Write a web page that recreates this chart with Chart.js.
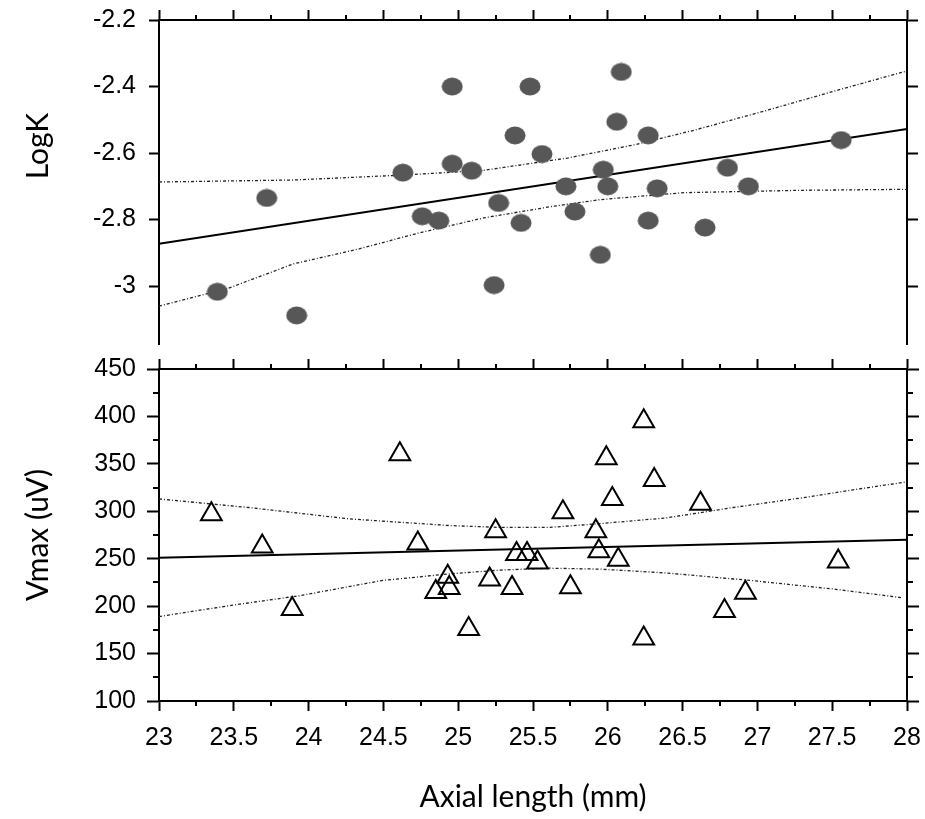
<!DOCTYPE html>
<html>
<head>
<meta charset="utf-8">
<script src="https://cdn.jsdelivr.net/npm/chart.js@4.4.1/dist/chart.umd.min.js"></script>
<style>
  html, body { margin: 0; padding: 0; background: #fff; }
  #wrap { position: relative; width: 925px; height: 819px; }
  canvas { position: absolute; left: 0; }
  #logkChart { top: 0; }
  #vmaxChart { top: 355px; }
</style>
</head>
<body>
<div id="wrap">
  <canvas id="logkChart" width="925" height="355"></canvas>
  <canvas id="vmaxChart" width="925" height="464"></canvas>
</div>
<script>
// axis ticks
const axialTicks = [23, 23.5, 24, 24.5, 25, 25.5, 26, 26.5, 27, 27.5, 28];
const axialMinor = [23.25, 23.75, 24.25, 24.75, 25.25, 25.75, 26.25, 26.75, 27.25, 27.75];
const logkTicks = [-3, -2.8, -2.6, -2.4, -2.2];
const vmaxTicks = [100, 150, 200, 250, 300, 350, 400, 450];
const vmaxMinor = [125, 175, 225, 275, 325, 375, 425];

// upper panel : LogK
const logkAxial = [23.39, 23.72, 23.92, 24.63, 24.76, 24.87, 24.96, 24.96, 25.09, 25.24,
                   25.27, 25.38, 25.42, 25.48, 25.56, 25.72, 25.78, 25.95, 25.97, 26.00,
                   26.06, 26.09, 26.27, 26.27, 26.33, 26.65, 26.80, 26.94, 27.56];
const logkValues = [-3.017, -2.735, -3.088, -2.659, -2.79, -2.803, -2.40, -2.632, -2.653, -2.997,
                    -2.75, -2.547, -2.81, -2.40, -2.603, -2.70, -2.776, -2.906, -2.65, -2.70,
                    -2.506, -2.356, -2.547, -2.803, -2.706, -2.824, -2.644, -2.70, -2.561];
const logkFitX = [23, 28];
const logkFitY = [-2.873, -2.528];
const logkUpperX = [23.0, 23.9, 24.64, 25.17, 25.73, 26.18, 26.58, 27.02, 27.52, 28.0];
const logkUpperY = [-2.687, -2.681, -2.666, -2.652, -2.615, -2.575, -2.531, -2.477, -2.413, -2.353];
const logkLowerX = [23.0, 23.46, 23.9, 24.33, 24.73, 25.17, 25.62, 25.95, 26.51, 27.29, 28.0];
const logkLowerY = [-3.06, -3.007, -2.933, -2.889, -2.841, -2.795, -2.761, -2.74, -2.719, -2.712, -2.709];

// lower panel : Vmax
const vmaxAxial = [23.35, 23.69, 23.89, 24.61, 24.73, 24.85, 24.93, 24.94, 25.07, 25.21,
                   25.25, 25.36, 25.39, 25.46, 25.53, 25.70, 25.75, 25.92, 25.94, 25.99,
                   26.03, 26.07, 26.24, 26.24, 26.31, 26.62, 26.78, 26.92, 27.54];
const vmaxValues = [297, 263, 197, 360, 266, 215, 231, 219, 176, 228,
                    279, 219, 255, 255, 246, 299, 220, 279, 258, 356,
                    313, 249, 395, 166, 333, 308, 195, 214, 247];
const vmaxFitX = [23, 28];
const vmaxFitY = [251, 270];
const vmaxUpperX = [23.0, 23.6, 24.27, 24.94, 25.28, 25.61, 25.95, 26.39, 26.84, 27.29, 27.74, 28.0];
const vmaxUpperY = [313, 304, 292, 285, 283, 283, 287, 293, 304, 314, 325, 331];
const vmaxLowerX = [23.0, 23.49, 23.94, 24.49, 24.94, 25.28, 25.61, 25.95, 26.39, 26.96, 27.51, 27.96];
const vmaxLowerY = [189, 201, 211, 227, 234, 238, 240, 239, 235, 227, 218, 209];

const zip = (xs, ys) => xs.map((x, i) => ({ x: x, y: ys[i] }));

const tickFont = { family: "'Liberation Sans', Arial, sans-serif", size: 25 };
const titleFont = { family: "Lato, 'Open Sans', sans-serif", size: 30 };
const border = { display: true, color: '#000', width: 2 };
const edgeGrid = (len) => ({ drawOnChartArea: false, drawTicks: true, tickLength: len, tickWidth: 2, tickColor: '#000' });
const fixTicks = (values) => (scale) => { scale.ticks = values.map(v => ({ value: v })); };
// fixed box size, and no extra room for labels hanging over the ends
const fixSize = (w, h) => (s) => {
  if (w !== null) s.width = w;
  if (h !== null) s.height = h;
  s.paddingTop = 0; s.paddingBottom = 0; s.paddingLeft = 0; s.paddingRight = 0;
};

// grey ellipse marker
const ellipse = document.createElement('canvas');
ellipse.width = 22;
ellipse.height = 19;
(function () {
  const c = ellipse.getContext('2d');
  c.fillStyle = '#575757';
  c.beginPath();
  c.ellipse(11, 9.5, 10.5, 9, 0, 0, Math.PI * 2);
  c.fill();
})();

// short ticks between the labelled ones
const minorTicks = {
  id: 'minorTicks',
  afterDraw(chart, args, opts) {
    const ctx = chart.ctx;
    ctx.save();
    ctx.strokeStyle = '#000';
    ctx.lineWidth = 2;
    (opts.marks || []).forEach(m => {
      const s = chart.scales[m.axis];
      m.values.forEach(v => {
        const p = Math.round(s.getPixelForValue(v));
        ctx.beginPath();
        if (s.position === 'top') { ctx.moveTo(p, s.bottom); ctx.lineTo(p, s.bottom - m.len); }
        else if (s.position === 'bottom') { ctx.moveTo(p, s.top); ctx.lineTo(p, s.top + m.len); }
        else if (s.position === 'left') { ctx.moveTo(s.right, p); ctx.lineTo(s.right - m.len, p); }
        else { ctx.moveTo(s.left, p); ctx.lineTo(s.left + m.len, p); }
        ctx.stroke();
      });
    });
    ctx.restore();
  }
};

// rotated side label (LogK sits above the middle of its axis)
const sideTitle = {
  id: 'sideTitle',
  afterDraw(chart, args, opts) {
    if (!opts.text) return;
    const ctx = chart.ctx;
    ctx.save();
    ctx.translate(opts.x, opts.y);
    ctx.rotate(-Math.PI / 2);
    ctx.font = titleFont.size + 'px ' + titleFont.family;
    ctx.fillStyle = '#000';
    ctx.textAlign = 'center';
    ctx.textBaseline = 'middle';
    ctx.fillText(opts.text, 0, 0);
    ctx.restore();
  }
};

const lineSet = (xs, ys, dashed) => ({
  data: zip(xs, ys),
  showLine: true,
  borderColor: dashed ? '#222' : '#000',
  borderWidth: dashed ? 1.3 : 2,
  borderDash: dashed ? [3, 2, 1, 2] : [],
  pointRadius: 0,
  order: dashed ? 3 : 2
});

const common = {
  responsive: false,
  animation: false,
  events: [],
};

// === LogK ===
new Chart(document.getElementById('logkChart'), {
  type: 'scatter',
  data: {
    datasets: [
      { label: 'LogK', data: zip(logkAxial, logkValues), pointStyle: ellipse, pointRadius: 10, order: 0 },
      lineSet(logkFitX, logkFitY, false),
      lineSet(logkUpperX, logkUpperY, true),
      lineSet(logkLowerX, logkLowerY, true),
    ],
  },
  plugins: [minorTicks, sideTitle],
  options: {
    ...common,
    layout: { padding: { bottom: 5 } },
    scales: {
      x: {
        type: 'linear', position: 'top', min: 23, max: 28,
        afterBuildTicks: fixTicks(axialTicks),
        ticks: { display: false },
        grid: edgeGrid(10), border: border,
        afterFit: fixSize(null, 20),
      },
      y: {
        type: 'linear', position: 'left', min: -3.174, max: -2.2,
        afterBuildTicks: fixTicks(logkTicks),
        ticks: { font: tickFont, color: '#000', padding: 13, callback: (v) => String(v) },
        grid: edgeGrid(10), border: border,
        afterFit: fixSize(159, null),
      },
      y2: {
        type: 'linear', position: 'right', min: -3.174, max: -2.2,
        afterBuildTicks: fixTicks(logkTicks),
        ticks: { display: false },
        grid: edgeGrid(11), border: border,
        afterFit: fixSize(18, null),
      },
    },
    plugins: {
      legend: { display: false },
      tooltip: { enabled: false },
      minorTicks: { marks: [{ axis: 'x', values: axialMinor, len: 5 }] },
      sideTitle: { text: 'LogK', x: 38, y: 146 },
    },
  },
});

// === Vmax ===
new Chart(document.getElementById('vmaxChart'), {
  type: 'scatter',
  data: {
    datasets: [
      {
        label: 'Vmax', data: zip(vmaxAxial, vmaxValues),
        pointStyle: 'triangle', pointRadius: 12,
        borderColor: '#000', backgroundColor: 'rgba(0,0,0,0)', pointBorderWidth: 2, order: 0
      },
      lineSet(vmaxFitX, vmaxFitY, false),
      lineSet(vmaxUpperX, vmaxUpperY, true),
      lineSet(vmaxLowerX, vmaxLowerY, true),
    ],
  },
  plugins: [minorTicks],
  options: {
    ...common,
    scales: {
      x: {
        type: 'linear', position: 'bottom', min: 23, max: 28,
        afterBuildTicks: fixTicks(axialTicks),
        ticks: { font: tickFont, color: '#000', padding: 12, maxRotation: 0, callback: (v) => String(v) },
        grid: edgeGrid(10), border: border,
        title: { display: true, text: 'Axial length (mm)', font: titleFont, color: '#000', padding: { top: 0, bottom: 4 } },
        afterFit: fixSize(null, 118),
      },
      xTop: {
        type: 'linear', position: 'top', min: 23, max: 28,
        afterBuildTicks: fixTicks(axialTicks),
        ticks: { display: false },
        grid: edgeGrid(10), border: border,
        afterFit: fixSize(null, 13),
      },
      y: {
        type: 'linear', position: 'left', min: 100, max: 450,
        afterBuildTicks: fixTicks(vmaxTicks),
        ticks: { font: tickFont, color: '#000', padding: 11, callback: (v) => String(v) },
        grid: edgeGrid(12), border: border,
        title: { display: true, text: 'Vmax (uV)', font: titleFont, color: '#000', padding: { top: 20, bottom: 0 } },
        afterFit: fixSize(159, null),
      },
      y2: {
        type: 'linear', position: 'right', min: 100, max: 450,
        afterBuildTicks: fixTicks(vmaxTicks),
        ticks: { display: false },
        grid: edgeGrid(12), border: border,
        afterFit: fixSize(18, null),
      },
    },
    plugins: {
      legend: { display: false },
      tooltip: { enabled: false },
      minorTicks: {
        marks: [
          { axis: 'x', values: axialMinor, len: 5 },
          { axis: 'xTop', values: axialMinor, len: 5 },
          { axis: 'y', values: vmaxMinor, len: 6 },
          { axis: 'y2', values: vmaxMinor, len: 6 },
        ]
      },
    },
  },
});
</script>
</body>
</html>
